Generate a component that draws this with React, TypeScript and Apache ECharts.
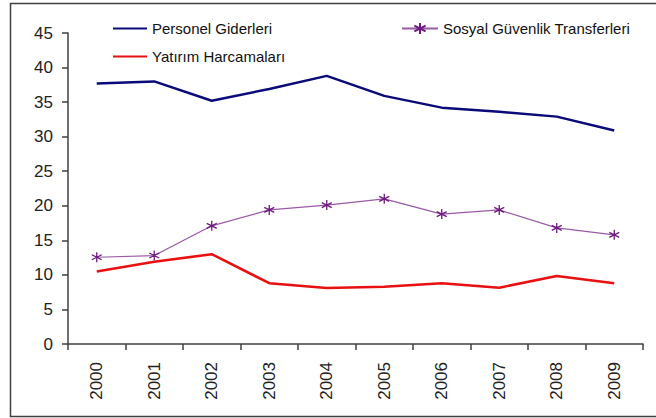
import React, { useEffect, useRef } from "react";
import * as echarts from "echarts";

const years = ["2000", "2001", "2002", "2003", "2004", "2005", "2006", "2007", "2008", "2009"];
const personelGiderleri = [37.7, 38.0, 35.2, 36.9, 38.8, 35.9, 34.2, 33.6, 32.9, 30.9];
const yatirimHarcamalari = [10.5, 11.9, 13.0, 8.8, 8.1, 8.3, 8.8, 8.15, 9.85, 8.8];
const sosyalGuvenlik = [12.55, 12.8, 17.1, 19.4, 20.1, 21.0, 18.8, 19.4, 16.8, 15.8];
const yTicks = [0, 5, 10, 15, 20, 25, 30, 35, 40, 45];

const FONT = "Liberation Sans, Arial, sans-serif";
const STAR = "path://M5,0L5,10M0.7,2.5L9.3,7.5M0.7,7.5L9.3,2.5";

export default function App() {
  const ref = useRef<HTMLDivElement>(null);
  useEffect(() => {
    document.body.style.margin = "0";
    const chart = echarts.init(ref.current!, null, { renderer: "svg" });
    chart.setOption({
      animation: false,
      backgroundColor: "#ffffff",
      grid: { left: 68, top: 33, right: 13, bottom: 74, containLabel: false },
      legend: [
        {
          data: [
            { name: "Personel Giderleri", itemStyle: { opacity: 0 } },
            { name: "Yatırım Harcamaları", itemStyle: { opacity: 0 } },
          ],
          orient: "vertical",
          left: 107,
          top: 16,
          itemWidth: 34,
          itemHeight: 14,
          itemGap: 13,
          textStyle: { fontFamily: FONT, fontSize: 15, color: "#111", lineHeight: 14 },
        },
        {
          data: ["Sosyal Güvenlik Transferleri"],
          orient: "vertical",
          left: 396,
          top: 16,
          itemWidth: 36,
          itemHeight: 14,
          textStyle: { fontFamily: FONT, fontSize: 15, color: "#111", lineHeight: 14 },
        },
      ],
      xAxis: {
        type: "category",
        data: years,
        boundaryGap: true,
        axisLine: { lineStyle: { color: "#404040", width: 1.5 } },
        axisTick: { show: true, length: 6, inside: false, lineStyle: { color: "#404040", width: 1.5 } },
        axisLabel: { rotate: 90, margin: 18, fontFamily: FONT, fontSize: 17, color: "#222" },
        splitLine: { show: false },
      },
      yAxis: {
        type: "value",
        min: yTicks[0],
        max: yTicks[yTicks.length - 1],
        interval: 5,
        axisLine: { show: true, lineStyle: { color: "#404040", width: 1.5 } },
        axisTick: { show: true, length: 6, lineStyle: { color: "#404040", width: 1.5 } },
        axisLabel: { margin: 15, fontFamily: FONT, fontSize: 17, color: "#222" },
        splitLine: { show: false },
      },
      series: [
        {
          name: "Personel Giderleri",
          type: "line",
          data: personelGiderleri,
          symbol: "none",
          lineStyle: { color: "#0a0a78", width: 2.5 },
          itemStyle: { color: "#0a0a78" },
        },
        {
          name: "Sosyal Güvenlik Transferleri",
          type: "line",
          data: sosyalGuvenlik,
          symbol: STAR,
          symbolSize: 10,
          lineStyle: { color: "#9a5aa6", width: 1.2 },
          itemStyle: { color: "transparent", borderColor: "#6e1a80", borderWidth: 1.3 },
        },
        {
          name: "Yatırım Harcamaları",
          type: "line",
          data: yatirimHarcamalari,
          symbol: "none",
          lineStyle: { color: "#e81010", width: 2.5 },
          itemStyle: { color: "#e81010" },
        },
      ],
      graphic: [
        {
          type: "rect",
          shape: { x: 10.5, y: 3.5, width: 700, height: 413 },
          style: { fill: "none", stroke: "#404040", lineWidth: 1.5 },
          silent: true,
        },
      ],
    });
    return () => chart.dispose();
  }, []);
  return <div ref={ref} style={{ width: 656, height: 418 }} />;
}
